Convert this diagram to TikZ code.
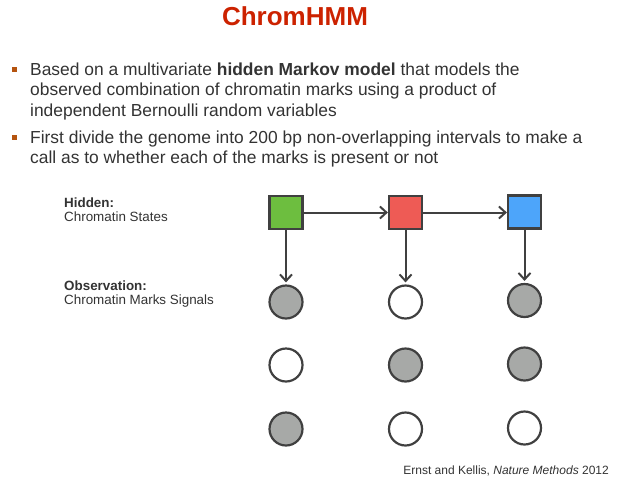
\documentclass[tikz,border=0pt]{standalone}
\usepackage{fontspec}
\setmainfont{Liberation Sans}
\usetikzlibrary{arrows.meta}
\definecolor{titlered}{HTML}{CC2200}
\definecolor{txt}{HTML}{333333}
\definecolor{bulletc}{HTML}{B5540F}
\definecolor{edge}{HTML}{404040}
\definecolor{sgreen}{HTML}{6DBE3F}
\definecolor{sred}{HTML}{EE5B55}
\definecolor{sblue}{HTML}{4DA5FA}
\definecolor{mgray}{HTML}{A7A9A7}
\begin{document}
\begin{tikzpicture}[x=1pt,y=-1pt,
  state/.style={draw=edge,line width=2.2pt,minimum size=33pt,inner sep=0pt},
  markcirc/.style={circle,draw=edge,line width=2.2pt,minimum size=33pt,inner sep=0pt},
  markon/.style={markcirc,fill=mgray},
  markoff/.style={markcirc,fill=white},
  conn/.style={draw=edge,line width=2pt,-{Straight Barb[length=6.5pt,width=12pt,line width=2pt]}},
  bodytxt/.style={anchor=base west,inner sep=0pt,text=txt,font=\fontsize{17.4}{21}\selectfont},
  lbl/.style={anchor=base west,inner sep=0pt,text=txt,font=\fontsize{13.4}{15}\selectfont},
  bul/.style={fill=bulletc,minimum size=5pt,inner sep=0pt}]
\useasboundingbox (0,0) rectangle (617,480);
\node[anchor=base,inner sep=0pt,text=titlered,font=\fontsize{26}{30}\selectfont\bfseries] (title) at (295,25) {ChromHMM};
\node[bul] (bu1) at (14.5,69.5) {};
\node[bodytxt] (b1a) at (30,75) {Based on a multivariate \textbf{hidden Markov model} that models the};
\node[bodytxt] (b1b) at (30,95.5) {observed combination of chromatin marks using a product of};
\node[bodytxt] (b1c) at (30,116) {independent Bernoulli random variables};
\node[bul] (bu2) at (14.5,137.5) {};
\node[bodytxt] (b2a) at (30,143) {First divide the genome into 200 bp non-overlapping intervals to make a};
\node[bodytxt] (b2b) at (30,163) {call as to whether each of the marks is present or not};
\node[lbl] (h1) at (64,207) {\textbf{Hidden:}};
\node[lbl] (h2) at (64,221) {Chromatin States};
\node[lbl] (o1) at (64,290) {\textbf{Observation:}};
\node[lbl] (o2) at (64,304) {Chromatin Marks Signals};
\node[state,fill=sgreen] (s1) at (286,212.5) {};
\node[state,fill=sred] (s2) at (405.5,212.5) {};
\node[state,fill=sblue] (s3) at (524.5,212) {};
\node[markon] (m11) at (286,302) {};
\node[markoff] (m21) at (286,365) {};
\node[markon] (m31) at (286,429) {};
\node[markoff] (m12) at (405.5,302) {};
\node[markon] (m22) at (405.5,365) {};
\node[markoff] (m32) at (405.5,429) {};
\node[markon] (m13) at (524.5,300.5) {};
\node[markon] (m23) at (524.5,364) {};
\node[markoff] (m33) at (524.5,428) {};
\draw[conn] (s1) -- (s2);
\draw[conn] (s2.east) -- (s3.west |- s2.east);
\draw[conn,shorten >=2pt] (s1) -- (m11);
\draw[conn,shorten >=2pt] (s2) -- (m12);
\draw[conn,shorten >=2pt] (s3) -- (m13);
\node[anchor=base east,inner sep=0pt,text=txt,font=\fontsize{12}{14}\selectfont] (cite) at (609,474) {Ernst and Kellis, \textit{Nature Methods} 2012};
\end{tikzpicture}
\end{document}
